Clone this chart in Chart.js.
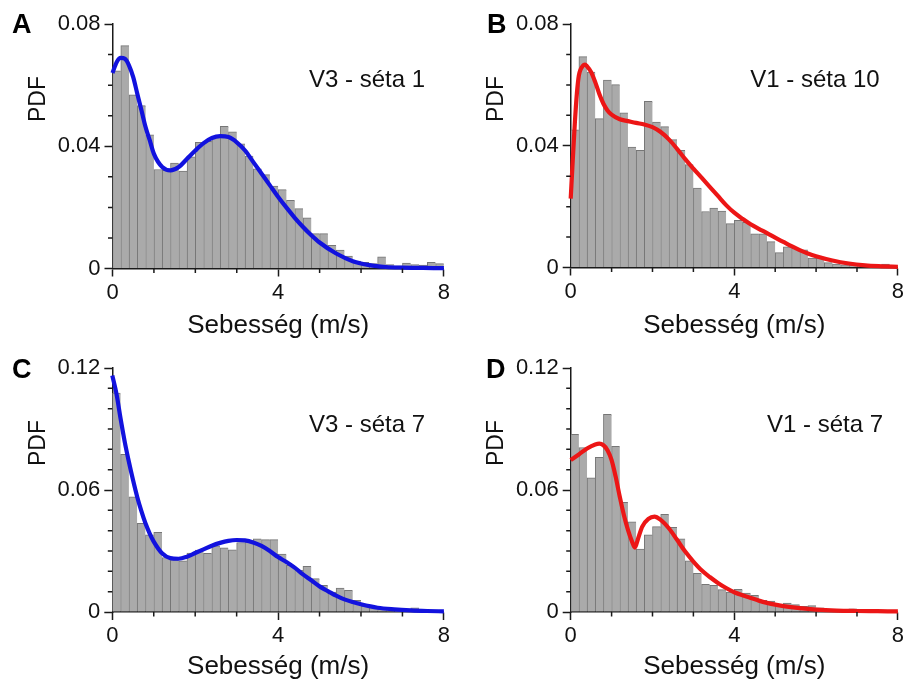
<!DOCTYPE html>
<html>
<head>
<meta charset="utf-8">
<script src="https://cdn.jsdelivr.net/npm/chart.js@4.4.1/dist/chart.umd.min.js"></script>
<style>
  body { margin: 0; background: #fff; }
  #wrap { position: relative; width: 907px; height: 682px; }
  canvas { position: absolute; }
</style>
</head>
<body>
<div id="wrap">
  <canvas id="chartA" width="453" height="341" style="left:0;top:0"></canvas>
  <canvas id="chartB" width="454" height="341" style="left:453px;top:0"></canvas>
  <canvas id="chartC" width="453" height="341" style="left:0;top:341px"></canvas>
  <canvas id="chartD" width="454" height="341" style="left:453px;top:341px"></canvas>
</div>
<script>
// histogram bins (0.2 m/s wide), centres
const binCenters = [0.1, 0.3, 0.5, 0.7, 0.9, 1.1, 1.3, 1.5, 1.7, 1.9,
  2.1, 2.3, 2.5, 2.7, 2.9, 3.1, 3.3, 3.5, 3.7, 3.9,
  4.1, 4.3, 4.5, 4.7, 4.9, 5.1, 5.3, 5.5, 5.7, 5.9,
  6.1, 6.3, 6.5, 6.7, 6.9, 7.1, 7.3, 7.5, 7.7, 7.9];

const pdfA = [0.0647, 0.0729, 0.0568, 0.0533, 0.0437, 0.0324, 0.0321, 0.0345, 0.0319, 0.0365,
  0.0413, 0.0416, 0.0430, 0.0465, 0.0447, 0.0408, 0.0368, 0.0326, 0.0307, 0.0270,
  0.0258, 0.0223, 0.0196, 0.0166, 0.0114, 0.0114, 0.0076, 0.0060, 0.0041, 0.0024,
  0.0020, 0.0016, 0.0038, 0.0013, 0.0009, 0.0018, 0.0013, 0.0011, 0.0020, 0.0016];
const pdfB = [0.0452, 0.0693, 0.0642, 0.0489, 0.0616, 0.0601, 0.0508, 0.0396, 0.0385, 0.0546,
  0.0478, 0.0463, 0.0420, 0.0385, 0.0338, 0.0261, 0.0184, 0.0195, 0.0185, 0.0144,
  0.0155, 0.0148, 0.0111, 0.0111, 0.0085, 0.0049, 0.0068, 0.0063, 0.0058, 0.0031,
  0.0031, 0.0016, 0.0011, 0.0009, 0.0008, 0.0007, 0.0006, 0.0005, 0.0011, 0.0004];
const pdfC = [0.1077, 0.0775, 0.0567, 0.0436, 0.0380, 0.0392, 0.0268, 0.0257, 0.0252, 0.0290,
  0.0304, 0.0289, 0.0326, 0.0316, 0.0306, 0.0342, 0.0346, 0.0360, 0.0356, 0.0356,
  0.0285, 0.0230, 0.0205, 0.0225, 0.0164, 0.0131, 0.0098, 0.0118, 0.0107, 0.0057,
  0.0028, 0.0025, 0.0016, 0.0013, 0.0008, 0.0008, 0.0021, 0.0008, 0.0005, 0.0005];
const pdfD = [0.0874, 0.0809, 0.0660, 0.0761, 0.0972, 0.0815, 0.0539, 0.0444, 0.0310, 0.0380,
  0.0420, 0.0480, 0.0417, 0.0360, 0.0252, 0.0190, 0.0136, 0.0131, 0.0110, 0.0098,
  0.0111, 0.0093, 0.0082, 0.0057, 0.0054, 0.0033, 0.0044, 0.0036, 0.0028, 0.0031,
  0.0021, 0.0013, 0.0011, 0.0008, 0.0016, 0.0006, 0.0005, 0.0005, 0.0004, 0.0004];

// fitted curves
const curveAx = [0, 0.1, 0.2, 0.3, 0.4, 0.5, 0.6, 0.7, 0.8, 0.9, 1.0, 1.2, 1.4, 1.6, 1.8, 2.0, 2.2, 2.4, 2.6, 2.8,
  3.0, 3.2, 3.4, 3.6, 3.8, 4.0, 4.2, 4.4, 4.6, 4.8, 5.0, 5.4, 5.8, 6.2, 6.6, 7.0, 7.5, 8.0];
const curveAy = [0.064, 0.0675, 0.0689, 0.0686, 0.0664, 0.0626, 0.0571, 0.0517, 0.0462, 0.0419, 0.0375, 0.0332, 0.0321, 0.0332, 0.0359, 0.0386, 0.041, 0.0427, 0.0433, 0.043,
  0.0413, 0.0386, 0.0348, 0.031, 0.0272, 0.0234, 0.0199, 0.0166, 0.0136, 0.0109, 0.0085, 0.0049, 0.0024, 0.0011, 0.0005, 0.0003, 0.0002, 0.0001];

const curveBx = [0, 0.05, 0.1, 0.15, 0.2, 0.3, 0.35, 0.4, 0.5, 0.6, 0.7, 0.8, 0.9, 1.0, 1.2, 1.4, 1.6, 1.8, 2.0, 2.2, 2.4, 2.6, 2.8,
  3.0, 3.2, 3.4, 3.6, 3.8, 4.0, 4.2, 4.4, 4.6, 4.8, 5.0, 5.2, 5.4, 5.6, 5.8, 6.0, 6.4, 6.8, 7.2, 7.6, 8.0];
const curveBy = [0.0226, 0.0352, 0.0472, 0.057, 0.0631, 0.0663, 0.0667, 0.0661, 0.0642, 0.0609, 0.057, 0.0538, 0.0516, 0.0502, 0.0487, 0.0481, 0.0475, 0.047, 0.0461, 0.0445, 0.0421, 0.039, 0.0356,
  0.0325, 0.0295, 0.0265, 0.0235, 0.0205, 0.018, 0.016, 0.0142, 0.0127, 0.0113, 0.0098, 0.0084, 0.007, 0.0057, 0.0046, 0.0037, 0.0023, 0.0013, 0.0007, 0.0004, 0.0002];

const curveCx = [0, 0.1, 0.2, 0.3, 0.4, 0.5, 0.6, 0.7, 0.8, 0.9, 1.0, 1.2, 1.4, 1.6, 1.8, 2.0, 2.2, 2.4, 2.6, 2.8,
  3.0, 3.2, 3.4, 3.6, 3.8, 4.0, 4.2, 4.4, 4.6, 4.8, 5.0, 5.2, 5.4, 5.6, 5.8, 6.0, 6.4, 6.8, 7.2, 7.6, 8.0];
const curveCy = [0.1163, 0.1074, 0.0951, 0.0837, 0.0739, 0.0649, 0.0567, 0.0497, 0.0436, 0.0387, 0.0346, 0.0289, 0.0265, 0.0262, 0.0272, 0.029, 0.0308, 0.0326, 0.034, 0.035,
  0.0354, 0.0352, 0.0342, 0.0325, 0.03, 0.027, 0.0246, 0.0218, 0.0185, 0.0156, 0.0126, 0.0103, 0.008, 0.0062, 0.0049, 0.0038, 0.0021, 0.0013, 0.0008, 0.0005, 0.0003];

const curveDx = [0, 0.2, 0.4, 0.6, 0.7, 0.8, 0.9, 1.0, 1.1, 1.2, 1.3, 1.4, 1.5, 1.57, 1.65, 1.75, 1.9, 2.05, 2.2, 2.4, 2.6, 2.8,
  3.0, 3.2, 3.4, 3.6, 3.8, 4.0, 4.2, 4.4, 4.6, 4.8, 5.0, 5.2, 5.6, 6.0, 6.5, 7.0, 7.5, 8.0];
const curveDy = [0.0747, 0.0775, 0.0804, 0.0824, 0.0828, 0.082, 0.0796, 0.0747, 0.0665, 0.0567, 0.0477, 0.0404, 0.0346, 0.0317, 0.0363, 0.042, 0.0458, 0.0469, 0.0453, 0.0412, 0.0355, 0.0297,
  0.0248, 0.0205, 0.0172, 0.0143, 0.0118, 0.0097, 0.0082, 0.0069, 0.0056, 0.0045, 0.0036, 0.0029, 0.0019, 0.0012, 0.0007, 0.0005, 0.0004, 0.0003];

// axis ticks
const xMinorTicks = [1, 2, 3, 5, 6, 7];
const yMinorSmall = [0.01, 0.02, 0.03, 0.05, 0.06, 0.07];
const yMinorLarge = [0.01, 0.02, 0.03, 0.04, 0.05, 0.07, 0.08, 0.09, 0.10, 0.11];

const BLUE = 'rgb(18, 18, 222)';
const RED = 'rgb(236, 22, 22)';
const AXIS = '#1a1a1a';

Chart.defaults.font.family = '"Liberation Sans", Arial, sans-serif';
Chart.defaults.color = '#111';

// minor ticks, panel letter, annotation and "PDF" label
const panelDeco = {
  id: 'panelDeco',
  afterDraw(chart, args, o) {
    const {ctx, chartArea, scales} = chart;
    ctx.save();
    ctx.strokeStyle = AXIS;
    ctx.lineWidth = 1.5;
    ctx.beginPath();
    o.xMinor.forEach(v => {
      const px = scales.x.getPixelForValue(v);
      ctx.moveTo(px, chartArea.bottom);
      ctx.lineTo(px, chartArea.bottom + 4.5);
    });
    o.yMinor.forEach(v => {
      const py = scales.y.getPixelForValue(v);
      ctx.moveTo(chartArea.left, py);
      ctx.lineTo(chartArea.left - 4.5, py);
    });
    ctx.stroke();

    ctx.fillStyle = '#000';
    ctx.font = 'bold 27px "Liberation Sans", Arial, sans-serif';
    ctx.textAlign = 'left';
    ctx.textBaseline = 'alphabetic';
    ctx.fillText(o.letter, o.letterX, o.letterY);

    ctx.fillStyle = '#111';
    ctx.font = '24px "Liberation Sans", Arial, sans-serif';
    ctx.textAlign = 'center';
    ctx.fillText(o.label, o.labelX, o.labelY);

    ctx.translate(chartArea.left - 74, o.pdfY);
    ctx.rotate(-Math.PI / 2);
    ctx.font = '23px "Liberation Sans", Arial, sans-serif';
    ctx.textBaseline = 'middle';
    ctx.fillText('PDF', 0, 0);
    ctx.restore();
  }
};

function makePanel(id, p) {
  const bars = binCenters.map((x, i) => ({x: x, y: p.pdf[i]}));
  const curve = p.cx.map((x, i) => ({x: x, y: p.cy[i]}));
  return new Chart(document.getElementById(id), {
    type: 'bar',
    data: {
      datasets: [{
        type: 'line',
        data: curve,
        borderColor: p.color,
        borderWidth: 4.2,
        pointRadius: 0,
        cubicInterpolationMode: 'monotone',
        clip: false,
        order: 0
      }, {
        type: 'bar',
        data: bars,
        backgroundColor: 'rgb(170, 170, 170)',
        borderColor: 'rgb(118, 118, 118)',
        borderWidth: {top: 1, left: 1, right: 0, bottom: 0},
        barPercentage: 1,
        categoryPercentage: 1,
        order: 1
      }]
    },
    options: {
      responsive: false,
      animation: false,
      devicePixelRatio: 1,
      layout: {padding: {left: 0, right: p.padRight, top: p.padTop, bottom: 0}},
      plugins: {
        legend: {display: false},
        tooltip: {enabled: false},
        panelDeco: {
          xMinor: xMinorTicks, yMinor: p.yMinor,
          letter: p.letter, letterX: p.letterX, letterY: p.letterY,
          label: p.label, labelX: p.labelX, labelY: p.labelY,
          pdfY: p.pdfY
        }
      },
      scales: {
        x: {
          type: 'linear',
          min: 0, max: 8,
          offset: false,
          afterFit: s => { s.height = p.xHeight; },
          ticks: {stepSize: 4, maxRotation: 0, padding: 3, font: {size: 22}, color: '#111'},
          grid: {drawOnChartArea: false, drawTicks: true, tickLength: 8, tickColor: AXIS, tickWidth: 1.5, offset: false},
          border: {display: true, color: AXIS, width: 1.5},
          title: {display: true, text: 'Sebesség (m/s)', font: {size: 26}, color: '#111', padding: {top: 0, bottom: 0}}
        },
        y: {
          min: 0, max: p.yMax,
          afterFit: s => { s.width = p.yWidth; },
          ticks: {stepSize: p.yStep, padding: 4, font: {size: 22}, color: '#111',
            callback: v => String(+v.toFixed(2))},
          grid: {drawOnChartArea: false, drawTicks: true, tickLength: 8, tickColor: AXIS, tickWidth: 1.5},
          border: {display: true, color: AXIS, width: 1.5}
        }
      }
    },
    plugins: [panelDeco]
  });
}

makePanel('chartA', {pdf: pdfA, cx: curveAx, cy: curveAy, color: BLUE,
  yMax: 0.08, yStep: 0.04, yMinor: yMinorSmall,
  yWidth: 112.5, xHeight: 72.5, padTop: 24, padRight: 8.5,
  letter: 'A', letterX: 12, letterY: 33, label: 'V3 - séta 1', labelX: 367, labelY: 87, pdfY: 99});
makePanel('chartB', {pdf: pdfB, cx: curveBx, cy: curveBy, color: RED,
  yMax: 0.08, yStep: 0.04, yMinor: yMinorSmall,
  yWidth: 117.7, xHeight: 73.5, padTop: 24, padRight: 5,
  letter: 'B', letterX: 34, letterY: 33, label: 'V1 - séta 10', labelX: 362, labelY: 87, pdfY: 99});
makePanel('chartC', {pdf: pdfC, cx: curveCx, cy: curveCy, color: BLUE,
  yMax: 0.12, yStep: 0.06, yMinor: yMinorLarge,
  yWidth: 112.3, xHeight: 70, padTop: 27, padRight: 9,
  letter: 'C', letterX: 12, letterY: 37, label: 'V3 - séta 7', labelX: 367, labelY: 91, pdfY: 102});
makePanel('chartD', {pdf: pdfD, cx: curveDx, cy: curveDy, color: RED,
  yMax: 0.12, yStep: 0.06, yMinor: yMinorLarge,
  yWidth: 117.7, xHeight: 70, padTop: 27, padRight: 5,
  letter: 'D', letterX: 33, letterY: 37, label: 'V1 - séta 7', labelX: 372, labelY: 91, pdfY: 102});
</script>
</body>
</html>
